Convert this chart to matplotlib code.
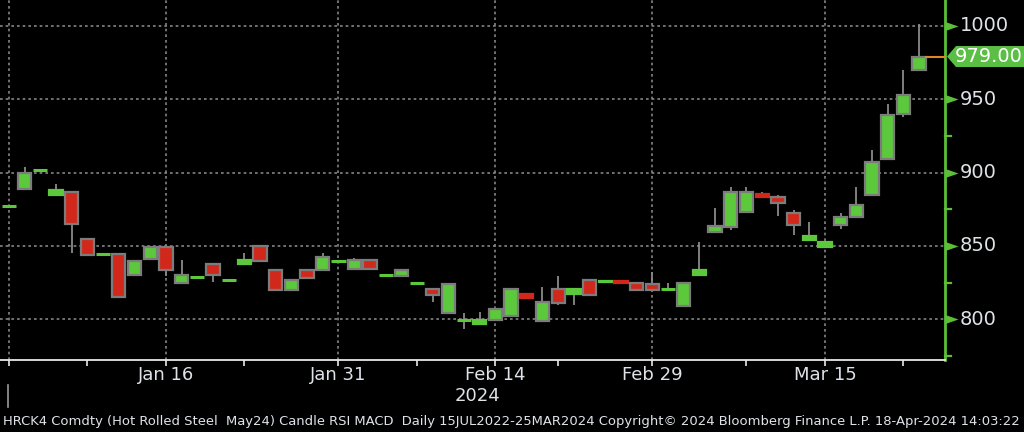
import matplotlib
matplotlib.use('Agg')
import matplotlib.pyplot as plt
from matplotlib.patches import Rectangle, Polygon
from matplotlib.transforms import blended_transform_factory, IdentityTransform
from matplotlib.lines import Line2D
import numpy as np
import pandas as pd

# ---------------- data ----------------
dates = pd.bdate_range('2023-12-29', '2024-03-25', freq='C',
                       holidays=['2024-01-01', '2024-01-15', '2024-02-19'])

opens = [877.5, 889, 902, 885, 886.5, 855, 844.5, 844.5, 830, 841,
         849, 825, 828.5, 838, 827, 837.5, 850, 833.5, 820, 833.5,
         833.5, 840, 834, 840.5, 830, 829.7, 824.7, 820.5, 804.5, 799.5,
         797, 799.5, 802.5, 817.5, 799, 820.5, 817.5, 827, 825.3, 826.3,
         825, 824, 820.5, 809, 830, 859.5, 863, 873, 885.5, 883.5,
         872.5, 854, 849.5, 864, 870, 885, 909, 940, 969.5]
highs = [877.5, 904, 902, 892.5, 886.5, 855, 844.5, 844.5, 840, 849,
         849, 840.5, 828.5, 838, 827, 845, 850, 833.5, 827, 833.5,
         845.5, 840, 841.5, 840.5, 830, 833.6, 824.7, 820.5, 824, 804.5,
         805, 807, 820.5, 817.5, 822, 829.5, 820.5, 827, 826.3, 827,
         825, 832.5, 824.5, 825, 853, 875.5, 890, 890, 886.5, 885,
         874.5, 866, 852.5, 872.5, 890, 915, 947, 970, 1001]
lows = [877.5, 889, 902, 885, 845, 844, 844.5, 815, 830, 841,
        829.5, 825, 828.5, 825.5, 827, 837.5, 840, 820, 820, 828,
        833.5, 840, 834, 834, 830, 829.7, 824.7, 812, 804.5, 793.5,
        797, 799.5, 802.5, 814.5, 799, 810, 810, 816.5, 825.3, 825,
        819, 820, 820.5, 809, 830, 858.5, 861, 873, 883.5, 870.5,
        857.5, 854, 849.5, 861.5, 870, 885, 909, 937.5, 969.5]
closes = [877.5, 899.5, 902, 888, 865, 844, 844.5, 815, 840, 849,
          833.5, 830, 828.5, 830, 827, 840.5, 840, 820, 827, 828,
          842.5, 840, 840.5, 834, 830, 833.6, 824.7, 816.5, 824, 799.5,
          799.5, 807, 820.5, 814.5, 812, 811, 820.5, 816.5, 826.3, 825,
          820, 820, 820.5, 825, 833.5, 863.5, 886.5, 886.5, 883.5, 879.5,
          864, 857, 852.5, 870, 878, 907.5, 939, 953, 979]

grid_dates = ['2023-12-29', '2024-01-16', '2024-01-31', '2024-02-14', '2024-02-29', '2024-03-15']
label_dates = ['2024-01-16', '2024-01-31', '2024-02-14', '2024-02-29', '2024-03-15']
label_texts = ['Jan 16', 'Jan 31', 'Feb 14', 'Feb 29', 'Mar 15']
tick_dates = ['2023-12-29', '2024-01-08', '2024-01-16', '2024-01-23', '2024-01-31', '2024-02-07',
              '2024-02-14', '2024-02-21', '2024-02-29', '2024-03-08', '2024-03-15', '2024-03-22']
y_major = [800, 850, 900, 950, 1000]
y_minor = [775, 825, 875, 925]
year_label = '2024'
footer = ("HRCK4 Comdty (Hot Rolled Steel  May24) Candle RSI MACD  Daily 15JUL2022-25MAR2024 "
          "Copyright\u00a9 2024 Bloomberg Finance L.P. 18-Apr-2024 14:03:22")

# ---------------- style ----------------
BG = 'black'
GREEN = '#5cc83c'
RED = '#d2281c'
BORDER = '#7c7c7c'
WICK = '#8a8a8a'
AXGREEN = '#5cbf38'
TXT = '#dfe3e8'
GRID = '#858585'

pos = {d: i for i, d in enumerate(dates.strftime('%Y-%m-%d'))}

fig = plt.figure(figsize=(10.24, 4.32), dpi=100, facecolor=BG)
ax = fig.add_axes([0, 72 / 432, 945 / 1024, 360 / 432], facecolor=BG)
xmin, xmax = -0.57, 59.65
ax.set_xlim(xmin, xmax)
ax.set_ylim(772.3, 1017.5)

for s in ['top', 'left']:
    ax.spines[s].set_visible(False)
ax.spines['bottom'].set_color('#e8e8e8')
ax.spines['bottom'].set_linewidth(1.3)
ax.spines['right'].set_color(AXGREEN)
ax.spines['right'].set_linewidth(2)

# gridlines
for d in grid_dates:
    ax.axvline(pos[d], color=GRID, lw=1.2, ls=(0, (1.6, 1.8)), zorder=1)
for v in y_major:
    ax.axhline(v, color=GRID, lw=1.2, ls=(0, (1.6, 1.8)), zorder=1)

# candles
bw = 0.85
for i, (o, h, l, c) in enumerate(zip(opens, highs, lows, closes)):
    if h > max(o, c) or l < min(o, c):
        ax.plot([i, i], [l, h], color=WICK, lw=1.3, zorder=2, solid_capstyle='butt')
    if abs(c - o) < 0.6:
        ax.plot([i - 0.45, i + 0.45], [c, c], color=GREEN, lw=2.2, zorder=3,
                solid_capstyle='butt')
    else:
        col = GREEN if c > o else RED
        ec = BORDER if abs(c - o) > 3.5 else col
        ax.add_patch(Rectangle((i - bw / 2, min(o, c)), bw, abs(c - o),
                               facecolor=col, edgecolor=ec, lw=1.6, zorder=3))

# last price line
last = closes[-1]
ax.plot([len(closes) - 1 + bw / 2, xmax], [last, last], color='#e0862a', lw=1.5, zorder=3,
        clip_on=False)

# x ticks
ax.set_xticks([pos[d] for d in tick_dates])
ax.set_xticklabels([])
ax.tick_params(axis='x', direction='out', length=4.5, width=1.2, colors='#e8e8e8')
ax.set_yticks([])

bt = blended_transform_factory(ax.transData, ax.transAxes)
for d, t in zip(label_dates, label_texts):
    ax.text(pos[d], -15 / 360, t, transform=bt, ha='center', va='center',
            fontsize=13, color=TXT, family='DejaVu Sans')
ax.text(0.505, -36 / 360, year_label, transform=ax.transAxes, ha='center', va='center',
        fontsize=13, color=TXT)

# year marker
fig.add_artist(Line2D([8 / 1024, 8 / 1024], [1 - 385 / 432, 1 - 407 / 432],
                      transform=fig.transFigure, color='#9a9a9a', lw=1.2))

# right axis markers and labels
rt = blended_transform_factory(ax.transAxes, ax.transData)
tri = [(0, -4.5), (13, 0), (0, 4.5)]
for v in y_major:
    ax.plot([1.0], [v], marker=tri, markersize=18.7, color=AXGREEN, transform=rt,
            clip_on=False, zorder=5, markeredgewidth=0)
    ax.text(960 / 945, v, str(v), transform=rt, ha='left', va='center',
            fontsize=14, color=TXT)
for v in y_minor:
    ax.plot([1.0, 1.0 + 6 / 945], [v, v], color=AXGREEN, lw=1.6, transform=rt,
            clip_on=False, zorder=5)

# price tag
fig.canvas.draw()
_, yp = ax.transData.transform((0, last))
hh = 10.5
tag = Polygon([(947, yp), (956, yp + hh), (1024, yp + hh), (1024, yp - hh), (956, yp - hh)],
              closed=True, transform=IdentityTransform(), facecolor='#5cbf45',
              edgecolor='none', zorder=10)
fig.add_artist(tag)
fig.text(989 / 1024, yp / 432, f'{last:.2f}', ha='center', va='center', fontsize=14,
         color='white', zorder=11)

# footer fitted to width
ft = fig.text(3 / 1024, 1 - 421 / 432, footer, ha='left', va='center', fontsize=10,
              color=TXT)
fig.canvas.draw()
w = ft.get_window_extent().width
ft.set_fontsize(10 * 1016 / w)

fig.savefig('out.png', dpi=100, facecolor=BG)
